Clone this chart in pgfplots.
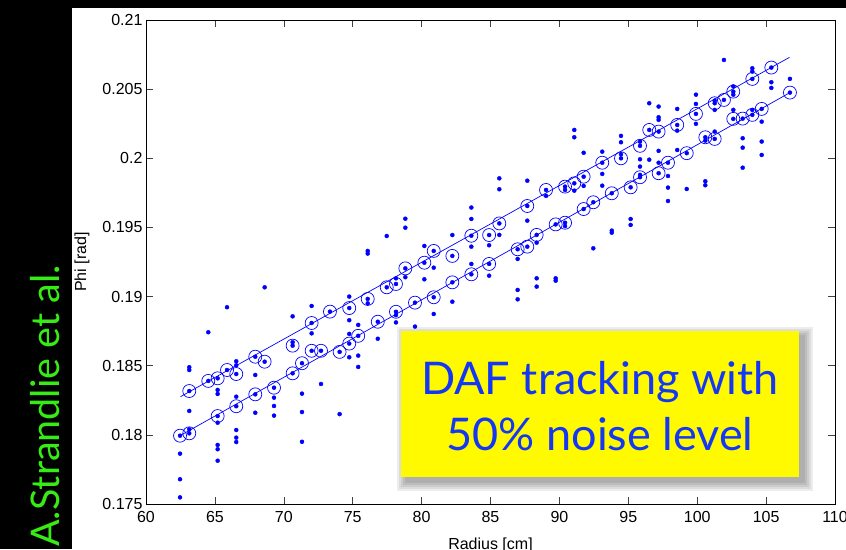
\documentclass[border=0pt]{standalone}
\usepackage{fontspec}
\setmainfont{Liberation Sans}
\newfontfamily\gill{Lato}
\usepackage{pgfplots}
\usepackage{pgfplotstable}
\pgfplotsset{compat=1.18}

\definecolor{mblue}{RGB}{0,0,255}
\definecolor{txtblue}{RGB}{20,55,245}
\definecolor{sgreen}{RGB}{55,235,20}
\definecolor{syellow}{RGB}{255,250,0}

% hits assigned to the upper track
\pgfplotstableread{
x y
63.14 0.18317
64.52 0.18390
65.20 0.18409
65.88 0.18469
66.55 0.18440
67.93 0.18565
68.61 0.18529
70.64 0.18645
72.02 0.18809
73.35 0.18891
74.75 0.18917
76.09 0.18983
77.47 0.19067
78.14 0.19091
78.82 0.19204
80.20 0.19245
80.88 0.19330
82.23 0.19294
83.61 0.19440
84.90 0.19445
85.64 0.19529
87.67 0.19655
89.03 0.19771
90.41 0.19795
91.08 0.19819
91.76 0.19867
93.11 0.19968
94.47 0.20000
95.85 0.20090
96.52 0.20205
97.20 0.20193
98.55 0.20241
99.91 0.20321
101.27 0.20398
101.94 0.20422
102.62 0.20482
104.00 0.20574
105.38 0.20656
}\uppertrk

% hits assigned to the lower track
\pgfplotstableread{
x y
62.47 0.17994
63.14 0.18011
65.20 0.18136
66.55 0.18207
67.93 0.18293
69.29 0.18341
70.64 0.18445
71.32 0.18518
72.02 0.18608
72.70 0.18608
74.05 0.18600
74.75 0.18660
75.40 0.18716
76.82 0.18818
78.14 0.18890
79.52 0.18956
80.88 0.18995
82.23 0.19103
83.61 0.19161
84.90 0.19236
86.97 0.19342
87.67 0.19361
88.35 0.19446
89.73 0.19522
90.41 0.19534
91.76 0.19633
92.46 0.19682
93.80 0.19747
95.17 0.19790
95.85 0.19863
97.20 0.19892
97.88 0.19968
99.24 0.20037
100.59 0.20152
101.27 0.20140
102.62 0.20285
103.30 0.20287
104.00 0.20314
104.68 0.20357
106.73 0.20475
}\lowertrk

% noise hits
\pgfplotstableread{
x y
62.47 0.17864
62.47 0.17679
62.47 0.17548
63.14 0.18489
63.14 0.18469
63.14 0.18173
63.14 0.18040
64.52 0.18742
65.20 0.18325
65.20 0.18296
65.20 0.18088
65.20 0.17927
65.20 0.17896
65.20 0.17813
65.88 0.18923
66.55 0.18532
66.55 0.18503
66.55 0.18276
66.55 0.18035
66.55 0.17980
66.55 0.17948
67.93 0.18433
67.93 0.18160
68.61 0.19067
69.29 0.18269
69.29 0.18209
69.29 0.18139
70.64 0.18857
70.64 0.18670
71.32 0.18298
71.32 0.18165
71.32 0.17950
72.02 0.18932
72.02 0.18734
72.70 0.18368
74.05 0.18150
74.75 0.19000
74.75 0.18829
74.75 0.18730
74.75 0.18561
75.40 0.18795
75.40 0.18573
75.40 0.18491
76.09 0.19330
76.09 0.19311
76.09 0.18951
76.82 0.18695
77.47 0.19438
78.14 0.19132
78.14 0.18866
78.14 0.18813
78.82 0.19563
78.82 0.19498
78.82 0.19140
79.52 0.18783
80.20 0.19366
80.20 0.19125
80.88 0.19209
80.88 0.18874
82.23 0.19445
82.23 0.18963
83.61 0.19644
83.61 0.19561
83.61 0.19361
83.61 0.19236
84.90 0.19371
84.90 0.19151
85.64 0.19855
85.64 0.19776
85.64 0.19446
86.97 0.19272
86.97 0.19048
86.97 0.18980
87.67 0.19838
87.67 0.19549
88.35 0.19390
88.35 0.19132
88.35 0.19072
89.03 0.19728
89.73 0.19132
89.73 0.19115
90.41 0.19771
90.41 0.19510
91.08 0.20205
91.08 0.20152
91.08 0.19766
91.76 0.20040
91.76 0.19800
92.46 0.19349
93.11 0.20048
93.11 0.19887
93.11 0.19802
93.80 0.19477
93.80 0.19462
94.47 0.20162
94.47 0.20116
94.47 0.20030
95.17 0.19561
95.17 0.19518
95.85 0.20120
95.85 0.19993
95.85 0.19940
95.85 0.19880
96.52 0.20398
96.52 0.19990
97.20 0.20374
97.20 0.20297
97.20 0.20278
97.20 0.20054
97.20 0.19968
97.88 0.19872
97.88 0.19788
97.88 0.19691
98.55 0.20357
98.55 0.20200
98.55 0.20060
99.24 0.19778
99.91 0.20460
99.91 0.20393
99.91 0.20249
100.59 0.20128
100.59 0.19834
100.59 0.19805
101.27 0.20417
101.27 0.20350
101.27 0.20193
101.94 0.20711
102.62 0.20520
102.62 0.20460
102.62 0.20350
103.30 0.20145
103.30 0.20077
103.30 0.19932
104.00 0.20651
104.00 0.20627
104.00 0.20350
104.68 0.20265
104.68 0.20121
104.68 0.20024
105.38 0.20550
105.38 0.20509
106.73 0.20574
}\noise

\begin{document}
\begin{tikzpicture}[x=1pt,y=1pt]
\useasboundingbox (0,0) rectangle (846,549);
\fill[black] (0,0) rectangle (846,549);
\fill[white] (72,0) rectangle (846,541);

\begin{axis}[
    at={(146pt,45pt)}, anchor=south west,
    scale only axis, width=689pt, height=484pt,
    xmin=60, xmax=110, ymin=0.175, ymax=0.21,
    xtick={60,65,70,75,80,85,90,95,100,105,110},
    xticklabels={60,65,70,75,80,85,90,95,100,105,110},
    ytick={0.175,0.18,0.185,0.19,0.195,0.2,0.205,0.21},
    yticklabels={0.175,0.18,0.185,0.19,0.195,0.2,0.205,0.21},
    tick align=inside, major tick length=7pt,
    tick style={black!75, line width=0.6pt},
    axis line style={line width=0.8pt},
    tick label style={font=\fontsize{16}{18}\selectfont},
    xticklabel style={yshift=-4pt},
    label style={font=\fontsize{16}{18}\selectfont},
    xlabel={Radius [cm]}, ylabel={Phi [rad]},
    xlabel style={at={(axis description cs:0.5,0)}, anchor=north, yshift=-30pt},
    ylabel style={at={(axis description cs:-0.0929,0.5)}, anchor=center},
]
\addplot[mblue, line width=0.7pt] coordinates {(62.50,0.18276) (106.70,0.20730)};
\addplot[mblue, line width=0.7pt] coordinates {(62.47,0.17994) (106.73,0.20475)};
\addplot[only marks, mark=*, mark size=2pt, mblue] table {\noise};
\addplot[only marks, mark=*, mark size=2pt, mblue] table {\uppertrk};
\addplot[only marks, mark=*, mark size=2pt, mblue] table {\lowertrk};
\addplot[only marks, mark=o, mark size=6.5pt, mblue, mark options={line width=0.7pt}] table {\uppertrk};
\addplot[only marks, mark=o, mark size=6.5pt, mblue, mark options={line width=0.7pt}] table {\lowertrk};
\end{axis}

% yellow label with soft shadow
\foreach \s in {8,6,4,2,0}
  \fill[black, opacity=0.07] (405-\s,66-\s) rectangle (805+\s,214+\s);
\fill[syellow] (401,72) rectangle (799,218);
\node[txtblue, anchor=base, inner sep=0, font=\gill\fontsize{45}{54}\selectfont] at (600,154) {DAF tracking with};
\node[txtblue, anchor=base, inner sep=0, font=\gill\fontsize{45}{54}\selectfont] at (600,98.3) {50\% noise level};

% author credit
\node[sgreen, rotate=90, anchor=base west, inner sep=0, font=\gill\fontsize{39.5}{44}\selectfont] at (59,2) {A.Strandlie et al.};
\end{tikzpicture}
\end{document}
